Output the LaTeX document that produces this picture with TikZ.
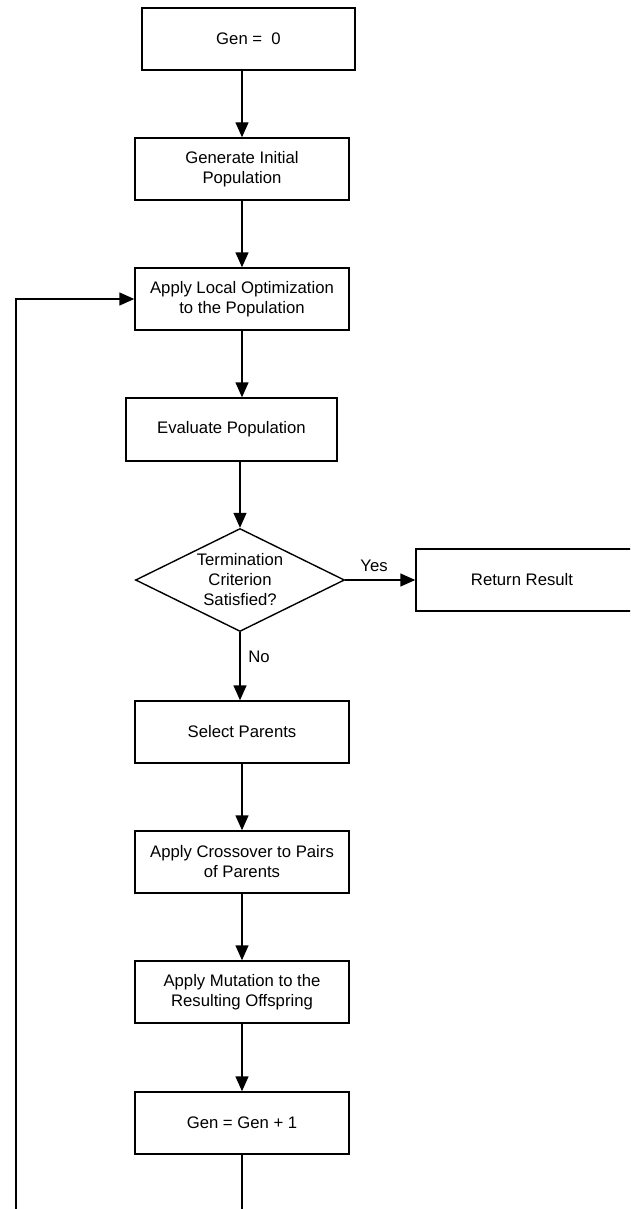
\documentclass[tikz,border=0pt]{standalone}
\usepackage{fontspec}
\setmainfont{Liberation Sans}
\usetikzlibrary{shapes.geometric,arrows.meta}
\begin{document}
\begin{tikzpicture}[x=1pt,y=-1pt,
  txt/.style={font=\fontsize{16.7}{20}\selectfont},
  box/.style={txt, draw, line width=1.4pt, inner sep=0pt, align=center, minimum width=214pt, minimum height=62pt},
  dec/.style={draw, diamond, line width=1.4pt, inner sep=0pt, minimum width=209pt, minimum height=103pt, aspect=2.03},
  lbl/.style={txt, inner sep=0pt},
  arr/.style={line width=1.4pt, -{Triangle[length=15pt,width=13pt]}},
  ln/.style={line width=1.4pt}]
\useasboundingbox (0,0) rectangle (630,1209);
\clip (0,0) rectangle (630,1209);
\node[box, minimum width=213pt] (gen0) at (248.5,39) {Gen = \ 0};
\node[box] (init) at (242,169) {Generate Initial\\Population};
\node[box] (local) at (242,299) {Apply Local Optimization\\to the Population};
\node[box, minimum width=211pt, minimum height=63pt] (eval) at (231.5,429.5) {Evaluate Population};
\node[dec, label={[txt, align=center]center:Termination\\Criterion\\Satisfied?}] (dia) at (240,580) {};
\node[box, minimum width=224pt] (ret) at (528,580) {\hspace*{-12pt}Return Result};
\node[box] (sel) at (242,732) {Select Parents};
\node[box] (cross) at (242,862) {Apply Crossover to Pairs\\of Parents};
\node[box] (mut) at (242,992) {Apply Mutation to the\\Resulting Offspring};
\node[box] (gen1) at (242,1123) {Gen = Gen + 1};
\node[lbl] (yes) at (374,566) {Yes};
\node[lbl] (no) at (259,657) {No};
\coordinate (lb) at (16,1240);
\draw[arr] (init.north |- gen0.south) -- (init.north);
\draw[arr] (init.south) -- (local.north);
\draw[arr] (local.south) -- (local.south |- eval.north);
\draw[arr] (dia.north |- eval.south) -- (dia.north);
\draw[arr] (dia.east) -- (ret.west);
\draw[arr] (dia.south) -- (dia.south |- sel.north);
\draw[arr] (sel.south) -- (cross.north);
\draw[arr] (cross.south) -- (mut.north);
\draw[arr] (mut.south) -- (gen1.north);
\draw[arr] (gen1.south) |- (lb) -- (lb |- local.west) -- (local.west);
\end{tikzpicture}
\end{document}
